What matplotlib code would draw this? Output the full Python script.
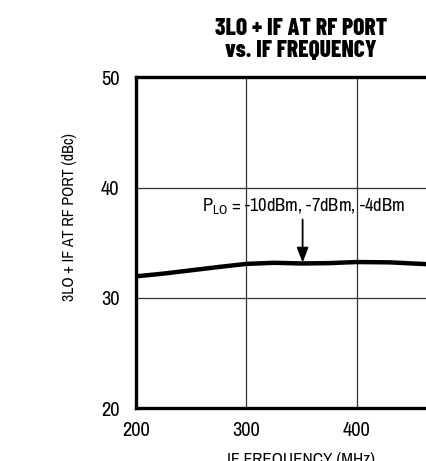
import matplotlib
matplotlib.use("Agg", force=True)

import matplotlib.pyplot as plt

# data
freq_mhz = [200, 225, 250, 275, 300, 325, 350, 375, 400, 430, 465, 500]
rejection_dbc = [31.95, 32.2, 32.5, 32.8, 33.08, 33.18, 33.12, 33.15, 33.25, 33.22, 33.05, 32.8]

x_ticks = [200, 300, 400]
x_grid = [300, 400]
y_ticks = [20, 30, 40, 50]

title = "3LO + IF AT RF PORT\nvs. IF FREQUENCY"
x_label = "IF FREQUENCY (MHz)"
y_label = "3LO + IF AT RF PORT (dBc)"
note = r"P$_{\mathregular{LO}}$ = -10dBm, -7dBm, -4dBm"

regular = ["Pragati Narrow", "Roboto Condensed", "Liberation Sans Narrow", "DejaVu Sans"]
heavy = ["Barlow Condensed", "Roboto Condensed", "DejaVu Sans"]
plt.rcParams["font.family"] = regular
plt.rcParams["mathtext.fontset"] = "custom"
plt.rcParams["mathtext.rm"] = "Pragati Narrow"

W, H = 427, 461
fig = plt.figure(figsize=(W / 100, H / 100), dpi=100)
fig.patch.set_facecolor("white")

# axes runs past the right edge, like the cropped original
left, right, top, bottom = 136, 467, 77.5, 408
ax = fig.add_axes([left / W, 1 - bottom / H, (right - left) / W, (bottom - top) / H])

ax.plot(freq_mhz, rejection_dbc, color="black", linewidth=3.2, solid_capstyle="butt")

ax.set_xlim(200, 500)
ax.set_ylim(20, 50)
ax.set_xticks(x_ticks)
ax.set_yticks(y_ticks)
ax.tick_params(length=0, labelsize=16, pad=12)
ax.tick_params(axis="x", pad=9)
ax.grid(True, axis="y", color="#333333", linewidth=0.9)
for g in x_grid:
    ax.axvline(g, color="#333333", linewidth=0.9, zorder=0.5)

for s in ax.spines.values():
    s.set_linewidth(2.4)
    s.set_color("black")

ax.annotate("", xy=(351, 33.2), xytext=(351, 37.1),
            arrowprops=dict(arrowstyle="-|>,head_length=0.9,head_width=0.35",
                            color="black", lw=1.3, shrinkA=0, shrinkB=0))
ax.text(351.8, 38.3, note, ha="center", va="center", fontsize=14.5)

fig.text(301 / W, 1 - 40 / H, title, ha="center", va="center", family=heavy,
         fontsize=17, fontweight=800, linespacing=1.05)
fig.text(70 / W, 1 - 217 / H, y_label, ha="center", va="center",
         rotation=90, fontsize=12.5)
fig.text(301 / W, 1 - 452 / H, x_label, ha="center", va="top", fontsize=13.5)

fig.savefig("out.png", dpi=100, facecolor="white")
plt.close(fig)
